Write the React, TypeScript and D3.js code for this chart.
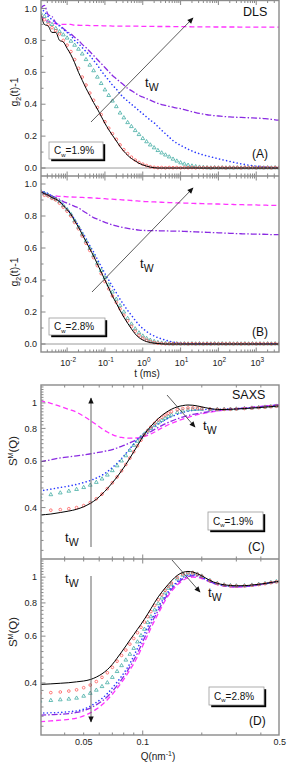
import React from 'react';
import * as d3 from 'd3';

// ---------- DLS data: delay time grid (ms) ----------
const tMs = [0.002,0.00251,0.00316,0.00398,0.00501,0.00631,0.00794,0.01,0.0126,0.0158,0.02,0.0251,0.0316,0.0398,0.0501,0.0631,0.0794,0.1,0.126,0.158,0.2,0.251,0.316,0.398,0.501,0.631,0.794,1,1.26,1.58,2,2.51,3.16,3.98,5.01,6.31,7.94,10,12.6,15.8,20,25.1,31.6,39.8,50.1,63.1,79.4,100,126,158,200,251,316,398,501,631,794,1000,1260,1580,2000,2510,3160,3980];

// Panel A (Cw = 1.9%)
const gA_black = [0.97,0.90,0.89,0.85,0.85,0.80,0.79,0.75,0.71,0.66,0.60,0.55,0.50,0.455,0.41,0.37,0.325,0.28,0.24,0.205,0.17,0.135,0.105,0.08,0.06,0.045,0.03,0.02,0.012,0.006,0.002,0,0,0,0,0,0,0,0,0,0,0,0,0,0,0,0,0,0,0,0,0,0,0,0,0,0,0,0,0,0,0,0,0];
const gA_red = [0.95,0.93,0.90,0.88,0.86,0.84,0.80,0.77,0.73,0.68,0.625,0.57,0.52,0.47,0.425,0.38,0.335,0.29,0.25,0.215,0.18,0.145,0.115,0.09,0.068,0.05,0.035,0.024,0.015,0.008,0.004,0.002,0.003,0.001,0.003,0.002,0.003,0.001,0.003,0.002,0.003,0.001,0.003,0.002,0.003,0.001,0.003,0.002,0.003,0.001,0.003,0.002,0.003,0.001,0.003,0.002,0.003,0.001,0.003,0.002,0.003,0.001,0.003,0.002];
const gA_cyan = [0.97,0.95,0.92,0.90,0.875,0.855,0.835,0.815,0.795,0.77,0.745,0.715,0.68,0.645,0.61,0.57,0.53,0.49,0.455,0.42,0.385,0.345,0.315,0.285,0.26,0.235,0.21,0.185,0.165,0.145,0.127,0.11,0.095,0.082,0.07,0.056,0.044,0.033,0.025,0.018,0.013,0.009,0.006,0.004,0.002,0.001,0.002,0.001,0.002,0.001,0.002,0.001,0.002,0.001,0.002,0.001,0.002,0.001,0.002,0.001,0.002,0.001,0.002,0.001];
const gA_blue = [1.0,0.98,0.95,0.93,0.91,0.89,0.87,0.85,0.83,0.80,0.78,0.755,0.73,0.705,0.675,0.645,0.61,0.58,0.55,0.52,0.495,0.465,0.44,0.42,0.40,0.38,0.36,0.34,0.32,0.30,0.283,0.26,0.237,0.215,0.193,0.172,0.156,0.142,0.13,0.118,0.107,0.097,0.09,0.082,0.076,0.07,0.064,0.058,0.052,0.047,0.041,0.036,0.031,0.026,0.022,0.018,0.015,0.012,0.009,0.007,0.005,0.004,0.003,0.003];
const gA_violet = [1.0,1.02,0.96,0.95,0.91,0.895,0.875,0.855,0.84,0.82,0.80,0.775,0.755,0.73,0.705,0.68,0.655,0.63,0.605,0.58,0.56,0.54,0.52,0.50,0.485,0.47,0.455,0.445,0.435,0.425,0.415,0.405,0.398,0.392,0.386,0.381,0.376,0.372,0.366,0.36,0.353,0.347,0.342,0.338,0.334,0.331,0.328,0.326,0.324,0.322,0.32,0.319,0.318,0.317,0.316,0.315,0.314,0.313,0.312,0.31,0.308,0.305,0.302,0.30];
const gA_magenta = [0.96,0.93,0.92,0.91,0.905,0.90,0.90,0.90,0.90,0.895,0.895,0.894,0.894,0.893,0.893,0.892,0.892,0.891,0.891,0.89,0.89,0.89,0.89,0.889,0.889,0.889,0.889,0.888,0.888,0.888,0.888,0.887,0.887,0.887,0.887,0.886,0.886,0.886,0.886,0.886,0.885,0.885,0.885,0.885,0.885,0.885,0.884,0.884,0.884,0.884,0.884,0.884,0.884,0.883,0.883,0.883,0.883,0.883,0.883,0.883,0.883,0.883,0.883,0.883];

// Panel B (Cw = 2.8%)
const gB_black = [0.95,0.94,0.93,0.915,0.905,0.89,0.865,0.84,0.81,0.77,0.73,0.685,0.64,0.595,0.55,0.50,0.45,0.40,0.35,0.30,0.255,0.21,0.168,0.13,0.095,0.063,0.04,0.025,0.015,0.009,0.005,0.003,0.001,0,0,0,0,0,0,0,0,0,0,0,0,0,0,0,0,0,0,0,0,0,0,0,0,0,0,0,0,0,0,0];
const gB_red = [0.95,0.93,0.925,0.91,0.90,0.88,0.855,0.83,0.80,0.76,0.72,0.675,0.63,0.585,0.54,0.49,0.44,0.39,0.345,0.30,0.26,0.22,0.18,0.145,0.11,0.08,0.055,0.037,0.024,0.015,0.009,0.005,0.003,0.001,0.002,0.001,0.002,0.001,0.002,0.001,0.002,0.001,0.002,0.001,0.002,0.001,0.002,0.001,0.002,0.001,0.002,0.001,0.002,0.001,0.002,0.001,0.002,0.001,0.002,0.001,0.002,0.001,0.002,0.001];
const gB_cyan = [0.955,0.94,0.93,0.915,0.905,0.89,0.865,0.84,0.81,0.77,0.73,0.687,0.643,0.598,0.553,0.505,0.46,0.415,0.37,0.325,0.28,0.24,0.20,0.16,0.125,0.095,0.07,0.05,0.035,0.024,0.016,0.01,0.006,0.004,0.002,0.001,0.002,0.001,0.002,0.001,0.002,0.001,0.002,0.001,0.002,0.001,0.002,0.001,0.002,0.001,0.002,0.001,0.002,0.001,0.002,0.001,0.002,0.001,0.002,0.001,0.002,0.001,0.002,0.001];
const gB_blue = [0.96,0.95,0.94,0.925,0.91,0.895,0.87,0.845,0.815,0.78,0.74,0.70,0.66,0.615,0.575,0.53,0.485,0.44,0.40,0.36,0.32,0.28,0.245,0.21,0.18,0.148,0.12,0.097,0.078,0.062,0.05,0.04,0.032,0.024,0.018,0.012,0.008,0.005,0.003,0.002,0.001,0.001,0.001,0.001,0.001,0.001,0.001,0.001,0.001,0.001,0.001,0.001,0.001,0.001,0.001,0.001,0.001,0.001,0.001,0.001,0.001,0.001,0.001,0.001];
const gB_violet = [0.955,0.945,0.935,0.925,0.915,0.905,0.89,0.88,0.87,0.86,0.85,0.835,0.82,0.805,0.79,0.78,0.77,0.76,0.752,0.745,0.738,0.732,0.727,0.722,0.718,0.715,0.712,0.71,0.709,0.708,0.708,0.708,0.707,0.707,0.706,0.706,0.705,0.705,0.704,0.703,0.702,0.701,0.70,0.699,0.698,0.697,0.696,0.695,0.694,0.693,0.692,0.691,0.69,0.689,0.688,0.688,0.687,0.687,0.686,0.686,0.685,0.684,0.684,0.683];
const gB_magenta = [0.955,0.94,0.93,0.927,0.925,0.923,0.922,0.92,0.919,0.918,0.917,0.916,0.915,0.914,0.912,0.911,0.91,0.908,0.906,0.905,0.903,0.902,0.90,0.899,0.897,0.895,0.893,0.891,0.89,0.889,0.888,0.887,0.886,0.885,0.884,0.883,0.882,0.882,0.881,0.88,0.879,0.878,0.878,0.877,0.876,0.876,0.875,0.875,0.874,0.873,0.873,0.872,0.871,0.871,0.87,0.87,0.869,0.869,0.868,0.868,0.867,0.866,0.866,0.865];

// ---------- SAXS data: Q grid (nm^-1) ----------
const qNm = [0.030,0.034,0.038,0.042,0.046,0.050,0.054,0.058,0.062,0.066,0.070,0.074,0.078,0.082,0.086,0.090,0.094,0.098,0.102,0.106,0.110,0.115,0.120,0.125,0.130,0.135,0.140,0.150,0.160,0.170,0.180,0.190,0.200,0.22,0.24,0.26,0.28,0.30,0.33,0.36,0.39,0.42,0.45,0.48,0.50];

// Panel C (Cw = 1.9%)
const sC_black = [0.375,0.378,0.383,0.388,0.394,0.403,0.415,0.43,0.45,0.472,0.497,0.523,0.552,0.583,0.617,0.652,0.688,0.725,0.76,0.79,0.815,0.845,0.872,0.895,0.915,0.932,0.946,0.966,0.977,0.982,0.98,0.974,0.966,0.952,0.945,0.944,0.946,0.948,0.952,0.956,0.96,0.964,0.968,0.972,0.974];
const sC_red = [0.39,0.391,0.393,0.396,0.40,0.407,0.418,0.432,0.45,0.472,0.497,0.523,0.552,0.583,0.617,0.652,0.687,0.722,0.755,0.785,0.81,0.837,0.862,0.882,0.90,0.914,0.926,0.942,0.952,0.957,0.958,0.956,0.953,0.948,0.945,0.945,0.946,0.948,0.952,0.956,0.96,0.964,0.968,0.972,0.974];
const sC_cyan = [0.44,0.448,0.455,0.462,0.469,0.477,0.487,0.499,0.514,0.532,0.553,0.577,0.602,0.63,0.66,0.69,0.715,0.74,0.762,0.782,0.80,0.82,0.84,0.858,0.874,0.888,0.90,0.92,0.933,0.941,0.945,0.946,0.946,0.945,0.945,0.946,0.947,0.949,0.953,0.957,0.961,0.965,0.969,0.973,0.975];
const sC_blue = [0.463,0.47,0.477,0.483,0.49,0.498,0.507,0.518,0.531,0.548,0.568,0.59,0.615,0.642,0.67,0.698,0.726,0.75,0.768,0.784,0.798,0.815,0.832,0.848,0.862,0.875,0.887,0.905,0.92,0.93,0.937,0.941,0.943,0.945,0.946,0.947,0.949,0.951,0.955,0.96,0.965,0.969,0.973,0.977,0.979];
const sC_violet = [0.597,0.608,0.618,0.624,0.629,0.634,0.64,0.646,0.652,0.658,0.665,0.674,0.684,0.694,0.705,0.716,0.728,0.74,0.753,0.766,0.778,0.793,0.807,0.82,0.832,0.843,0.853,0.87,0.884,0.895,0.904,0.911,0.917,0.927,0.935,0.941,0.946,0.95,0.956,0.962,0.967,0.972,0.977,0.982,0.984];
const sC_magenta = [1.02,0.997,0.97,0.945,0.922,0.89,0.858,0.827,0.798,0.775,0.758,0.746,0.739,0.736,0.735,0.735,0.737,0.741,0.746,0.753,0.762,0.775,0.79,0.803,0.815,0.826,0.836,0.853,0.868,0.881,0.892,0.902,0.91,0.922,0.932,0.939,0.945,0.95,0.957,0.963,0.968,0.973,0.978,0.983,0.985];

// Panel D (Cw = 2.8%)
const sD_black = [0.395,0.397,0.399,0.401,0.404,0.407,0.412,0.421,0.433,0.449,0.47,0.496,0.523,0.551,0.58,0.608,0.637,0.665,0.695,0.727,0.76,0.803,0.843,0.878,0.91,0.94,0.968,1.015,1.042,1.05,1.045,1.03,1.012,0.972,0.948,0.936,0.93,0.928,0.929,0.934,0.94,0.947,0.955,0.962,0.966];
const sD_red = [0.366,0.368,0.37,0.373,0.377,0.384,0.393,0.405,0.42,0.437,0.458,0.483,0.508,0.532,0.56,0.588,0.618,0.648,0.678,0.71,0.742,0.783,0.822,0.858,0.892,0.922,0.95,0.998,1.028,1.04,1.038,1.025,1.008,0.97,0.946,0.934,0.928,0.926,0.927,0.932,0.938,0.945,0.953,0.96,0.964];
const sD_cyan = [0.342,0.344,0.346,0.348,0.351,0.357,0.366,0.376,0.388,0.401,0.42,0.442,0.465,0.488,0.513,0.54,0.571,0.603,0.637,0.675,0.71,0.753,0.795,0.835,0.873,0.908,0.937,0.985,1.018,1.035,1.037,1.027,1.01,0.972,0.948,0.936,0.93,0.928,0.929,0.934,0.94,0.947,0.955,0.962,0.966];
const sD_blue = [0.308,0.309,0.31,0.312,0.314,0.319,0.327,0.338,0.35,0.365,0.383,0.403,0.424,0.447,0.473,0.505,0.54,0.575,0.612,0.65,0.685,0.728,0.77,0.81,0.848,0.883,0.913,0.962,0.997,1.015,1.02,1.015,1.0,0.966,0.942,0.93,0.924,0.922,0.924,0.93,0.937,0.945,0.952,0.96,0.964];
const sD_violet = [0.303,0.304,0.305,0.307,0.31,0.315,0.322,0.331,0.342,0.355,0.372,0.391,0.412,0.435,0.46,0.488,0.518,0.553,0.59,0.627,0.663,0.708,0.75,0.792,0.832,0.868,0.90,0.95,0.985,1.005,1.012,1.008,0.995,0.962,0.94,0.928,0.922,0.92,0.922,0.928,0.936,0.944,0.952,0.96,0.964];
const sD_magenta = [0.286,0.288,0.29,0.292,0.295,0.301,0.309,0.319,0.331,0.346,0.363,0.382,0.402,0.424,0.448,0.473,0.502,0.535,0.57,0.605,0.642,0.687,0.73,0.773,0.815,0.852,0.885,0.935,0.972,0.993,1.0,0.998,0.988,0.958,0.937,0.926,0.92,0.918,0.92,0.926,0.934,0.942,0.95,0.958,0.962];

// tick labels
const gTickValues = [0, 0.2, 0.4, 0.6, 0.8, 1.0];
const gTickLabels = ['0.0', '0.2', '0.4', '0.6', '0.8', '1.0'];
const tDecades = [-2, -1, 0, 1, 2, 3];
const sTickValues = [0.4, 0.6, 0.8, 1.0];
const sTickLabels = ['0.4', '0.6', '0.8', '1'];
const qTickValues = [0.05, 0.1, 0.5];
const qTickLabels = ['0.05', '0.1', '0.5'];

// ---------- styling ----------
const FONT = "'Liberation Sans', Arial, Helvetica, sans-serif";
const FRAME = '#8a8a8a';
const TICK = '#555';
type Kind = 'solid' | 'circle' | 'triangle' | 'dot' | 'dashdot' | 'dash';
const STY: { kind: Kind; color: string }[] = [
  { kind: 'dash', color: '#ff33ff' },
  { kind: 'dashdot', color: '#8a2be2' },
  { kind: 'dot', color: '#2b3bff' },
  { kind: 'triangle', color: '#3aa89f' },
  { kind: 'circle', color: '#ff5252' },
  { kind: 'solid', color: '#000000' },
];

const XL = 41, XR = 279;
const xT = d3.scaleLog().domain([0.00204, 4000]).range([XL, XR]);
const yA = d3.scaleLinear().domain([-0.05, 1.05]).range([176, 0.5]);
const yB = d3.scaleLinear().domain([-0.05, 1.05]).range([352, 176]);
const xQ = d3.scaleLog().domain([0.0303, 0.495]).range([XL, XR]);
const yC = d3.scaleLog().domain([0.255, 1.17]).range([559, 385]);
const yD = d3.scaleLog().domain([0.255, 1.17]).range([735, 559]);

const triSym = d3.symbol(d3.symbolTriangle, 6)() as string;

function Series({ xs, ys, sx, sy, kind, color }: any) {
  const pts: [number, number][] = xs.map((x: number, i: number) => [sx(x), sy(ys[i])]);
  if (kind === 'circle') {
    return <g>{pts.map(([px, py], i) => <circle key={i} cx={px} cy={py} r={1.35} fill="none" stroke={color} strokeWidth={0.75} />)}</g>;
  }
  if (kind === 'triangle') {
    return <g>{pts.map(([px, py], i) => <path key={i} d={triSym} transform={`translate(${px},${py})`} fill="none" stroke={color} strokeWidth={0.75} />)}</g>;
  }
  const d = d3.line().curve(d3.curveMonotoneX)(pts) as string;
  const dash = kind === 'dot' ? '0.01 3.6' : kind === 'dashdot' ? '6 2 1.5 2' : kind === 'dash' ? '5 3' : undefined;
  return <path d={d} fill="none" stroke={color} strokeWidth={kind === 'solid' ? 1 : kind === 'dot' ? 1.6 : 1.3} strokeDasharray={dash} strokeLinecap={kind === 'dot' ? 'round' : 'butt'} />;
}

function logMinorT() {
  const out: number[] = [];
  for (let e = -3; e <= 3; e++) for (let k = 2; k <= 9; k++) {
    const v = k * Math.pow(10, e);
    if (v > 0.00204 && v < 4000) out.push(v);
  }
  return out;
}
function logMinorQ() {
  const out: number[] = [];
  for (let e = -2; e <= -1; e++) for (let k = 1; k <= 9; k++) {
    const v = k * Math.pow(10, e);
    if (v > 0.0303 && v < 0.495 && Math.abs(v - 0.1) > 1e-9) out.push(v);
  }
  return out;
}

function HTicks({ sx, major, minor, y, dir }: any) {
  const seg = (x: number, len: number, k: string) => {
    if (dir === 0) return <line key={k} x1={x} x2={x} y1={y - len} y2={y + len} stroke={TICK} strokeWidth={0.7} />;
    return <line key={k} x1={x} x2={x} y1={y} y2={y + dir * len} stroke={TICK} strokeWidth={0.7} />;
  };
  return <g>
    {minor.map((v: number, i: number) => seg(sx(v), 2.5, 'm' + i))}
    {major.map((v: number, i: number) => seg(sx(v), 4.5, 'M' + i))}
  </g>;
}

function VTicks({ sy, major, minor }: any) {
  return <g>
    {minor.map((v: number, i: number) => <line key={'m' + i} x1={XL} x2={XL + 2.5} y1={sy(v)} y2={sy(v)} stroke={TICK} strokeWidth={0.7} />)}
    {major.map((v: number, i: number) => <line key={'M' + i} x1={XL} x2={XL + 4.5} y1={sy(v)} y2={sy(v)} stroke={TICK} strokeWidth={0.7} />)}
  </g>;
}

function CwBox({ x, y, w, h, label }: any) {
  return <g>
    <rect x={x + 2.2} y={y + 2.2} width={w} height={h} fill="#000" />
    <rect x={x} y={y} width={w} height={h} fill="#fff" stroke="#9a9a9a" strokeWidth={0.8} />
    <text x={x + 5} y={y + h / 2 + 3.6} fontSize={10} fill="#111">C<tspan dy={2.5} fontSize={6}>w</tspan><tspan dy={-2.5}>{label}</tspan></text>
  </g>;
}

function Tw({ x, y }: any) {
  return <text x={x} y={y} fontSize={13} fill="#111">t<tspan dy={3.5} fontSize={10.5}>W</tspan></text>;
}

export default function App() {
  const gA = [gA_magenta, gA_violet, gA_blue, gA_cyan, gA_red, gA_black];
  const gB = [gB_magenta, gB_violet, gB_blue, gB_cyan, gB_red, gB_black];
  const sC = [sC_magenta, sC_violet, sC_blue, sC_cyan, sC_red, sC_black];
  const sD = [sD_magenta, sD_violet, sD_blue, sD_cyan, sD_red, sD_black];
  const tMajor = tDecades.map((e) => Math.pow(10, e));
  const tMinor = logMinorT();
  const qMinor = logMinorQ();
  const gMinor = [0.1, 0.3, 0.5, 0.7, 0.9];
  const sMinor = d3.range(0.275, 1.16, 0.025).filter((v) => ![0.4, 0.6, 0.8, 1.0].some((m) => Math.abs(m - v) < 1e-6));

  return (
    <svg width={289} height={763} style={{ position: 'absolute', left: 0, top: 0, background: '#fff' }} fontFamily={FONT}>
      <defs>
        <clipPath id="cA"><rect x={XL} y={0} width={XR - XL} height={176} /></clipPath>
        <clipPath id="cB"><rect x={XL} y={176} width={XR - XL} height={176} /></clipPath>
        <clipPath id="cC"><rect x={XL} y={385} width={XR - XL} height={174} /></clipPath>
        <clipPath id="cD"><rect x={XL} y={559} width={XR - XL} height={176} /></clipPath>
        <marker id="ah" viewBox="0 0 10 10" refX={9} refY={5} markerWidth={7} markerHeight={6} markerUnits="userSpaceOnUse" orient="auto">
          <path d="M0,0.5 L10,5 L0,9.5 z" fill="#111" />
        </marker>
      </defs>
      <rect x={0} y={0} width={289} height={763} fill="#fff" />

      {/* zero lines */}
      <line x1={XL} x2={XR} y1={yA(0)} y2={yA(0)} stroke="#9a9a9a" strokeWidth={1} />
      <line x1={XL} x2={XR} y1={yB(0)} y2={yB(0)} stroke="#9a9a9a" strokeWidth={1} />

      {/* data */}
      <g clipPath="url(#cA)">
        {STY.map((s, i) => <Series key={i} xs={tMs} ys={gA[i]} sx={xT} sy={yA} kind={s.kind} color={s.color} />)}
      </g>
      <g clipPath="url(#cB)">
        {STY.map((s, i) => <Series key={i} xs={tMs} ys={gB[i]} sx={xT} sy={yB} kind={s.kind} color={s.color} />)}
      </g>
      <g clipPath="url(#cC)">
        {STY.map((s, i) => <Series key={i} xs={qNm} ys={sC[i]} sx={xQ} sy={yC} kind={s.kind} color={s.color} />)}
      </g>
      <g clipPath="url(#cD)">
        {STY.map((s, i) => <Series key={i} xs={qNm} ys={sD[i]} sx={xQ} sy={yD} kind={s.kind} color={s.color} />)}
      </g>

      {/* ticks */}
      <HTicks sx={xT} major={tMajor} minor={tMinor} y={0.5} dir={1} />
      <HTicks sx={xT} major={tMajor} minor={tMinor} y={176} dir={0} />
      <HTicks sx={xT} major={tMajor} minor={tMinor} y={352} dir={-1} />
      <VTicks sy={yA} major={gTickValues} minor={gMinor} />
      <VTicks sy={yB} major={gTickValues} minor={gMinor} />
      <HTicks sx={xQ} major={[0.1]} minor={qMinor} y={385} dir={1} />
      <HTicks sx={xQ} major={[0.1]} minor={qMinor} y={559} dir={0} />
      <HTicks sx={xQ} major={[0.1]} minor={qMinor} y={735} dir={-1} />
      <VTicks sy={yC} major={sTickValues} minor={sMinor.filter((v) => yC(v) > 386)} />
      <VTicks sy={yD} major={sTickValues} minor={sMinor.filter((v) => yD(v) > 560)} />

      {/* frames */}
      <rect x={XL} y={0.5} width={XR - XL} height={351.5} fill="none" stroke={FRAME} strokeWidth={1.4} />
      <line x1={XL} x2={XR} y1={176} y2={176} stroke={FRAME} strokeWidth={1.4} />
      <rect x={XL} y={385} width={XR - XL} height={350} fill="none" stroke={FRAME} strokeWidth={1.4} />
      <line x1={XL} x2={XR} y1={559} y2={559} stroke={FRAME} strokeWidth={1.4} />

      {/* tick labels */}
      <g fontSize={9} fill="#222" textAnchor="end">
        {gTickValues.map((v, i) => <text key={'a' + i} x={37} y={yA(v) + 3.2}>{gTickLabels[i]}</text>)}
        {gTickValues.map((v, i) => <text key={'b' + i} x={37} y={yB(v) + 3.2}>{gTickLabels[i]}</text>)}
        {sTickValues.map((v, i) => <text key={'c' + i} x={37} y={yC(v) + 3.2}>{sTickLabels[i]}</text>)}
        {sTickValues.map((v, i) => <text key={'d' + i} x={37} y={yD(v) + 3.2}>{sTickLabels[i]}</text>)}
      </g>
      <g fontSize={9} fill="#222" textAnchor="middle">
        {tDecades.map((e, i) => <text key={i} x={xT(Math.pow(10, e)) + 1} y={366}>10<tspan dy={-4} fontSize={6.5}>{String(e)}</tspan></text>)}
        {qTickValues.map((v, i) => <text key={'q' + i} x={xQ(v)} y={745}>{qTickLabels[i]}</text>)}
      </g>

      {/* axis titles */}
      <text x={147} y={376.5} fontSize={10} textAnchor="middle" fill="#222">t (ms)</text>
      <text x={158} y={760} fontSize={10} textAnchor="middle" fill="#222">Q(nm<tspan dy={-4} fontSize={7}>-1</tspan><tspan dy={4}>)</tspan></text>
      <text transform="translate(18,92) rotate(-90)" fontSize={10.5} textAnchor="middle" fill="#222">g<tspan dy={2.5} fontSize={7}>2</tspan><tspan dy={-2.5}>(t)-1</tspan></text>
      <text transform="translate(18,272) rotate(-90)" fontSize={10.5} textAnchor="middle" fill="#222">g<tspan dy={2.5} fontSize={7}>2</tspan><tspan dy={-2.5}>(t)-1</tspan></text>
      <text transform="translate(17,451) rotate(-90)" fontSize={11.5} textAnchor="middle" fill="#222">S<tspan dy={-4.5} fontSize={7}>M</tspan><tspan dy={4.5}>(Q)</tspan></text>
      <text transform="translate(17,632) rotate(-90)" fontSize={11.5} textAnchor="middle" fill="#222">S<tspan dy={-4.5} fontSize={7}>M</tspan><tspan dy={4.5}>(Q)</tspan></text>

      {/* annotations */}
      <text x={243} y={16} fontSize={12.5} fill="#111">DLS</text>
      <text x={232} y={399} fontSize={12.5} fill="#111">SAXS</text>
      <text x={252} y={158} fontSize={12} fill="#111">(A)</text>
      <text x={252} y={336} fontSize={12} fill="#111">(B)</text>
      <text x={248} y={551} fontSize={12} fill="#111">(C)</text>
      <text x={249} y={725} fontSize={12} fill="#111">(D)</text>

      <line x1={91} y1={122} x2={193} y2={18} stroke="#333" strokeWidth={0.8} markerEnd="url(#ah)" />
      <line x1={92} y1={292} x2={193} y2={188} stroke="#333" strokeWidth={0.8} markerEnd="url(#ah)" />
      <line x1={91} y1={547} x2={91} y2={398} stroke="#555" strokeWidth={0.9} markerEnd="url(#ah)" />
      <line x1={91} y1={576} x2={91} y2={722} stroke="#555" strokeWidth={0.9} markerEnd="url(#ah)" />
      <line x1={167} y1={395} x2={195} y2={427} stroke="#333" strokeWidth={0.8} markerEnd="url(#ah)" />
      <line x1={172} y1={560} x2={200} y2={592} stroke="#333" strokeWidth={0.8} markerEnd="url(#ah)" />

      <Tw x={145} y={87} />
      <Tw x={140} y={268} />
      <Tw x={65} y={542} />
      <Tw x={203} y={430} />
      <Tw x={65} y={583} />
      <Tw x={208} y={597} />

      <CwBox x={49} y={142} w={54} h={17} label="=1.9%" />
      <CwBox x={49} y={318} w={56} h={17} label="=2.8%" />
      <CwBox x={208} y={512} w={55} h={18} label="=1.9%" />
      <CwBox x={209} y={687} w={55} h={18} label="=2.8%" />
    </svg>
  );
}
